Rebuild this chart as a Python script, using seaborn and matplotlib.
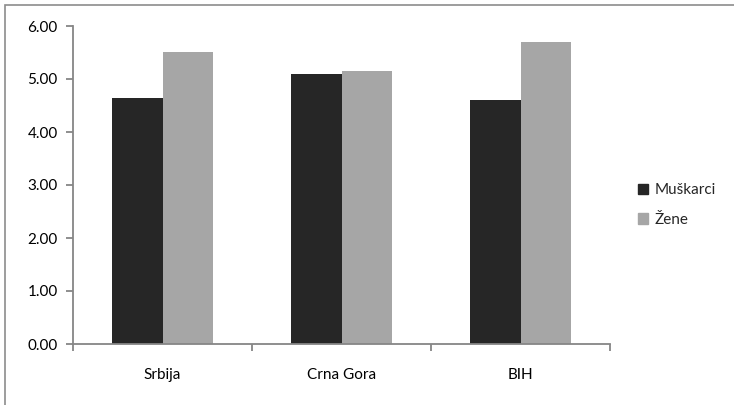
import matplotlib
matplotlib.use("Agg")
import matplotlib.pyplot as plt
import matplotlib.patches as mpatches
import seaborn as sns
import pandas as pd
import numpy as np

categories = ["Srbija", "Crna Gora", "BIH"]
series_names = ["Muškarci", "Žene"]
muskarci = [4.64, 5.10, 4.60]
zene = [5.51, 5.15, 5.69]
colors = ["#262626", "#a6a6a6"]

df = pd.DataFrame({
    "kategorija": categories * 2,
    "pol": [series_names[0]] * 3 + [series_names[1]] * 3,
    "vrijednost": muskarci + zene,
})

sns.set_theme(style="white")
plt.rcParams["font.family"] = ["Lato", "DejaVu Sans"]

fig = plt.figure(figsize=(7.34, 4.05), dpi=100)
ax = fig.add_axes([73 / 734, 61 / 405, 537 / 734, 318 / 405])

sns.barplot(data=df, x="kategorija", y="vrijednost", hue="pol",
            palette=colors, width=0.56, gap=0, saturation=1,
            edgecolor="none", ax=ax, legend=False)

ax.set_xlim(-0.5, 2.5)
ax.set_ylim(0, 6)
ax.set_yticks(np.arange(0, 6.01, 1))
ax.set_yticklabels([f"{v:.2f}" for v in np.arange(0, 6.01, 1)])
ax.set_xticks([-0.5, 0.5, 1.5, 2.5])
ax.set_xticklabels([])
ax.set_xticks([0, 1, 2], minor=True)
ax.set_xticklabels(categories, minor=True)
ax.set_xlabel("")
ax.set_ylabel("")

axis_color = "#868686"
for side in ["top", "right"]:
    ax.spines[side].set_visible(False)
for side in ["left", "bottom"]:
    ax.spines[side].set_color(axis_color)
    ax.spines[side].set_linewidth(1.3)
ax.tick_params(axis="y", which="major", direction="out", length=5, width=1.3,
               color=axis_color, labelsize=11, labelcolor="black", pad=6, left=True)
ax.tick_params(axis="x", which="major", direction="out", length=5, width=1.3,
               color=axis_color, bottom=True)
ax.tick_params(axis="x", which="minor", length=0, labelsize=11,
               labelcolor="black", pad=17)

handles = [mpatches.Patch(color=c, label=n) for c, n in zip(colors, series_names)]
fig.legend(handles=handles, loc="center left", bbox_to_anchor=(624 / 734, 1 - 205 / 405),
           frameon=False, fontsize=11, handlelength=0.7, handleheight=0.7,
           handletextpad=0.4, labelspacing=1.0)

# chart area frame
frame = mpatches.Rectangle((5 / 734, -0.1), 1.2, 1 - 5 / 405 + 0.1,
                           transform=fig.transFigure, fill=False,
                           edgecolor="#8c8c8c", linewidth=1.2)
fig.patches.append(frame)

fig.savefig("out.png", dpi=100)
